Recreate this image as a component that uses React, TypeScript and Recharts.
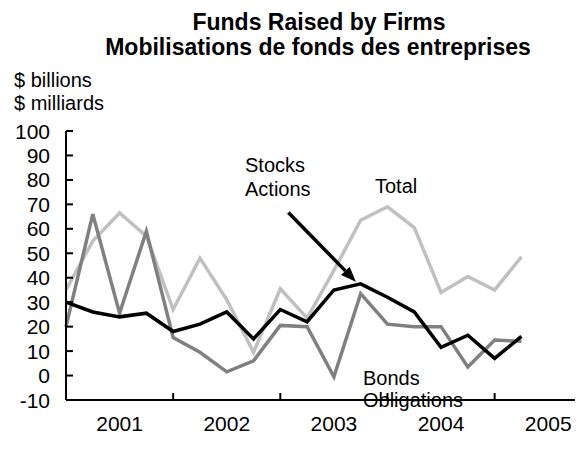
import { LineChart, Line, XAxis, YAxis, ReferenceLine } from 'recharts'

// quarterly, first point = 2001 Q1
const stocks = [30, 26, 24, 25.5, 18, 21, 26, 15, 27, 22, 35, 37.5, 32, 26, 11.5, 16.5, 7, 16]
const bonds = [20, 66, 25.5, 59, 15.5, 9.5, 1.5, 6, 20.5, 20, -0.5, 33.5, 21, 20, 20, 3.5, 14.5, 14]
const total = [35, 55, 66.5, 57, 27, 48, 31, 9.5, 35.5, 23.5, 43, 63.5, 69, 60.5, 34, 40.5, 35, 48.5]

const yearLabels = ['2001', '2002', '2003', '2004', '2005']
const yearLabelPos = [2, 6, 10, 14, 18]
const yearBreaks = [4, 8, 12, 16]
const yTicks = [-10, 0, 10, 20, 30, 40, 50, 60, 70, 80, 90, 100]

const data = stocks.map((s, i) => ({ q: i, stocks: s, bonds: bonds[i], total: total[i] }))

const FONT = '"Liberation Sans", Arial, sans-serif'

const YTick = (props: any) => {
  const { x, y, payload } = props
  return (
    <g>
      <line x1={x} x2={x + 7} y1={y} y2={y} stroke="#000" strokeWidth={2} />
      <text x={x - 16} y={y} dy="0.36em" textAnchor="end" fontSize={21} fontFamily={FONT} fill="#000">
        {payload.value}
      </text>
    </g>
  )
}

const XTick = (props: any) => {
  const { x, y, payload } = props
  const v = payload.value
  if (yearBreaks.includes(v)) {
    return <line x1={x} x2={x} y1={y} y2={y - 7} stroke="#000" strokeWidth={2} />
  }
  const label = yearLabels[yearLabelPos.indexOf(v)]
  return (
    <text x={x} y={y + 31} textAnchor="middle" fontSize={21} fontFamily={FONT} fill="#000">
      {label}
    </text>
  )
}

const Arrow = (props: any) => {
  const { x1, y1, x2, y2 } = props
  const ang = Math.atan2(y2 - y1, x2 - x1)
  const len = 15
  const w = 6
  const bx = x2 - len * Math.cos(ang)
  const by = y2 - len * Math.sin(ang)
  const px = -Math.sin(ang) * w
  const py = Math.cos(ang) * w
  return (
    <g>
      <line x1={x1} y1={y1} x2={bx} y2={by} stroke="#000" strokeWidth={3.5} />
      <polygon points={`${x2},${y2} ${bx + px},${by + py} ${bx - px},${by - py}`} fill="#000" />
    </g>
  )
}

export default function App() {
  return (
    <div style={{ position: 'absolute', left: 0, top: 0, width: 577, height: 468, background: '#fff' }}>
      <LineChart
        width={577}
        height={468}
        data={data}
        margin={{ top: 131, right: 2, bottom: 34, left: 0 }}
      >
        <XAxis
          dataKey="q"
          type="number"
          domain={[0, 19]}
          ticks={[2, 4, 6, 8, 10, 12, 14, 16, 18]}
          interval={0}
          tick={<XTick />}
          tickLine={false}
          tickSize={0}
          tickMargin={0}
          height={34}
          axisLine={{ stroke: '#000', strokeWidth: 2 }}
        />
        <YAxis
          domain={[-10, 100]}
          ticks={yTicks}
          interval={0}
          tick={<YTick />}
          tickLine={false}
          tickSize={0}
          tickMargin={0}
          width={66}
          axisLine={{ stroke: '#000', strokeWidth: 2 }}
        />
        <Line dataKey="total" stroke="#c0c0c0" strokeWidth={3.5} dot={false} isAnimationActive={false} />
        <Line dataKey="bonds" stroke="#808080" strokeWidth={3.5} dot={false} isAnimationActive={false} />
        <Line dataKey="stocks" stroke="#000" strokeWidth={3.5} dot={false} isAnimationActive={false} />
        <ReferenceLine
          segment={[{ x: 8.3, y: 66.7 }, { x: 10.82, y: 38.4 }]}
          shape={<Arrow />}
          ifOverflow="visible"
        />
      </LineChart>
      <svg
        width={577}
        height={468}
        style={{ position: 'absolute', left: 0, top: 0, pointerEvents: 'none' }}
        fontFamily={FONT}
      >
        <text x={319} y={30} textAnchor="middle" fontSize={23} fontWeight="bold">Funds Raised by Firms</text>
        <text x={318} y={55} textAnchor="middle" fontSize={23} fontWeight="bold">Mobilisations de fonds des entreprises</text>
        <text x={14} y={87} fontSize={20}>$ billions</text>
        <text x={14} y={110} fontSize={20}>$ milliards</text>
        <text x={245} y={172} fontSize={20}>Stocks</text>
        <text x={245} y={196} fontSize={20}>Actions</text>
        <text x={375} y={193} fontSize={20}>Total</text>
        <text x={363} y={385} fontSize={20}>Bonds</text>
        <text x={363} y={407} fontSize={20}>Obligations</text>
      </svg>
    </div>
  )
}
